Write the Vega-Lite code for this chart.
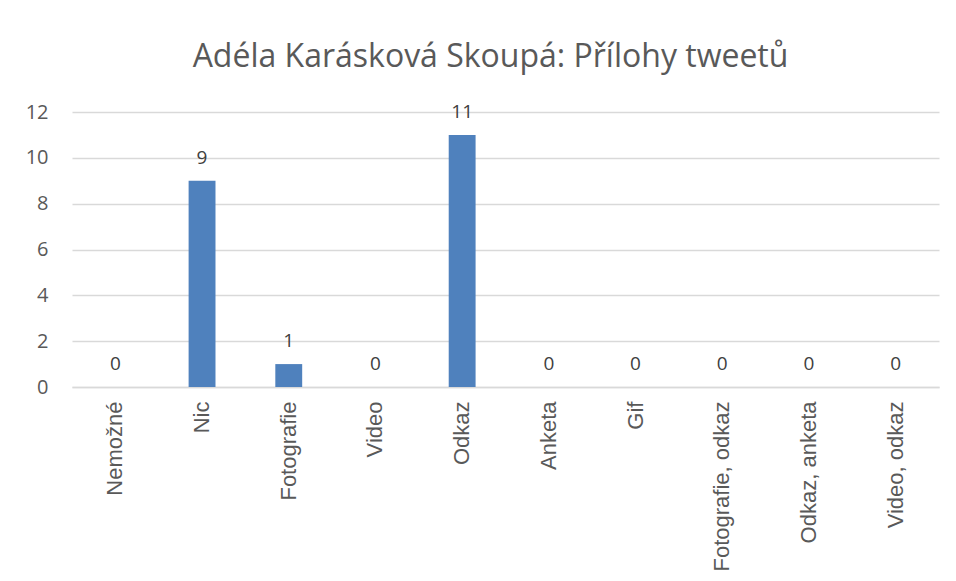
{
  "$schema": "https://vega.github.io/schema/vega-lite/v6.json",
  "width": 867,
  "height": 275,
  "autosize": "none",
  "padding": {"left": 72, "top": 112, "right": 17, "bottom": 194},
  "background": "white",
  "title": {
    "text": "Adéla Karásková Skoupá: Přílohy tweetů",
    "anchor": "middle",
    "fontSize": 32,
    "font": "Open Sans",
    "fontWeight": "normal",
    "color": "#595959",
    "offset": 28,
    "dx": -15
  },
  "data": {
    "values": [
      {"kategorie": "Nemožné", "pocet": 0},
      {"kategorie": "Nic", "pocet": 9},
      {"kategorie": "Fotografie", "pocet": 1},
      {"kategorie": "Video", "pocet": 0},
      {"kategorie": "Odkaz", "pocet": 11},
      {"kategorie": "Anketa", "pocet": 0},
      {"kategorie": "Gif", "pocet": 0},
      {"kategorie": "Fotografie, odkaz", "pocet": 0},
      {"kategorie": "Odkaz, anketa", "pocet": 0},
      {"kategorie": "Video, odkaz", "pocet": 0}
    ]
  },
  "encoding": {
    "x": {
      "field": "kategorie",
      "type": "nominal",
      "sort": null,
      "scale": {"paddingInner": 0.69, "paddingOuter": 0.345},
      "axis": {
        "title": null,
        "labelAngle": -90,
        "labelAlign": "right",
        "labelBaseline": "middle",
        "labelFont": "Liberation Sans",
        "labelFontSize": 22,
        "labelColor": "#595959",
        "labelPadding": 14,
        "labelLimit": 300,
        "ticks": false,
        "domainColor": "#d9d9d9",
        "domainWidth": 1.5,
        "grid": false
      }
    },
    "y": {
      "field": "pocet",
      "type": "quantitative",
      "scale": {"domain": [0, 12]},
      "axis": {
        "title": null,
        "values": [0, 2, 4, 6, 8, 10, 12],
        "labelFont": "Open Sans",
        "labelFontSize": 20,
        "labelColor": "#595959",
        "labelPadding": 24,
        "ticks": false,
        "domain": false,
        "gridColor": "#d9d9d9",
        "gridWidth": 1.3
      }
    }
  },
  "layer": [
    {"mark": {"type": "bar", "color": "#4f81bd"}},
    {
      "mark": {"type": "text", "dy": -23, "fontSize": 19, "font": "Open Sans", "color": "#404040"},
      "encoding": {"text": {"field": "pocet", "type": "quantitative"}}
    }
  ],
  "config": {"view": {"stroke": null}}
}
